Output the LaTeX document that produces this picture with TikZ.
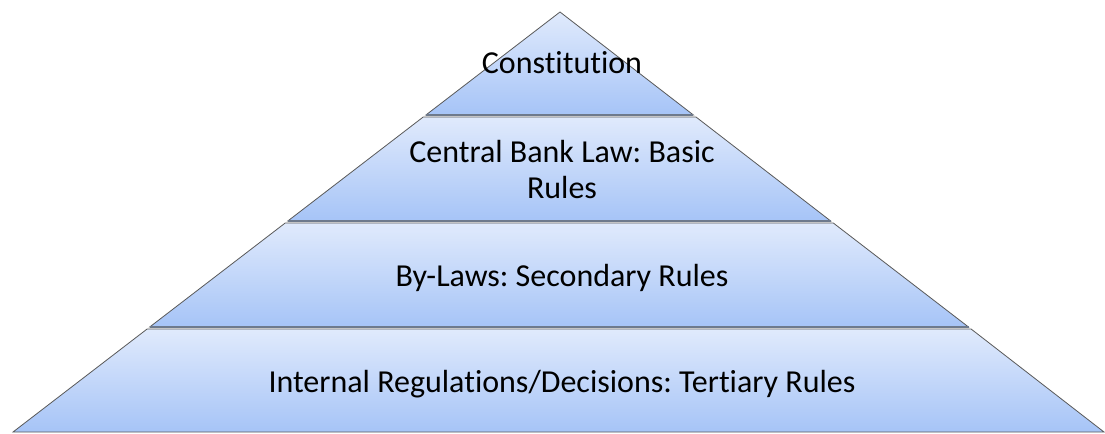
\documentclass[tikz,border=0pt]{standalone}
\usepackage{fontspec}
\setmainfont{Carlito}[Ligatures={NoCommon}]
\usetikzlibrary{positioning}
\definecolor{layertop}{RGB}{224,234,252}
\definecolor{layerbot}{RGB}{166,196,247}
\definecolor{layerline}{RGB}{110,122,140}

\begin{document}
\frenchspacing
\begin{tikzpicture}[
    x=0.75pt, y=-0.75pt,
    layer/.style={top color=layertop, bottom color=layerbot, draw=gray!70!black, line width=0.6pt},
    sep/.style={draw=layerline, line width=1.5pt},
    label/.style={font=\fontsize{24}{27}\selectfont, text centered, align=center, inner sep=0pt, anchor=base}
]
\useasboundingbox (0,0) rectangle (1105,433);

% Layers
\shade[layer] (560,12) -- (693.4,115) -- (425.9,115) -- cycle;
\shade[layer] (423.2,117) -- (696,117) -- (830.7,221) -- (287.8,221) -- cycle;
\shade[layer] (285.2,223) -- (833.3,223) -- (968.5,327) -- (149.7,327) -- cycle;
\shade[layer] (147.1,329) -- (971.1,329) -- (1104,432) -- (13,432) -- cycle;

% Separators
\draw[sep] (425.9,115) -- (693.4,115);
\draw[sep] (287.8,221) -- (830.7,221);
\draw[sep] (149.7,327) -- (968.5,327);

% Labels
\node[label] (constitution) at (562,73) {Constitution};
\node[label] (centralbank) at (562,198) {Central Bank Law: Basic\\Rules};
\node[label] (bylaws) at (562,286) {By-Laws: Secondary Rules};
\node[label] (internal) at (562,392) {Internal Regulations/Decisions: Tertiary Rules};

\end{tikzpicture}
\end{document}
